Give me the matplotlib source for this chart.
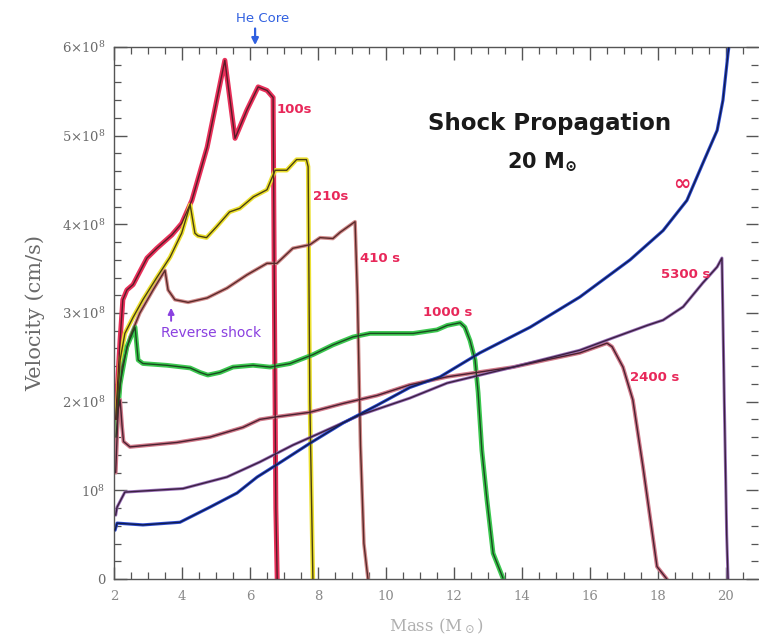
import matplotlib
matplotlib.use("Agg")
import matplotlib.pyplot as plt
from matplotlib.ticker import MultipleLocator, FixedLocator, FixedFormatter

# Velocity profiles (units of 1e8 cm/s) versus enclosed mass (solar masses)
mass_100 = [2.05, 2.12, 2.18, 2.26, 2.38, 2.56, 2.97, 3.26, 3.70, 3.99, 4.29, 4.74, 5.26,
            5.56, 5.91, 6.24, 6.50, 6.68, 6.72, 6.76, 6.80]
vel_100 = [1.80, 2.30, 2.70, 3.15, 3.26, 3.32, 3.62, 3.73, 3.88, 4.01, 4.27, 4.87, 5.85,
           4.97, 5.29, 5.55, 5.51, 5.43, 3.00, 0.80, 0.00]

mass_210 = [2.07, 2.18, 2.32, 2.56, 2.85, 3.26, 3.65, 3.99, 4.24, 4.38, 4.47, 4.72, 5.01,
            5.40, 5.70, 6.10, 6.50, 6.74, 7.08, 7.37, 7.66, 7.71, 7.76, 7.85]
vel_210 = [1.80, 2.47, 2.77, 2.95, 3.15, 3.40, 3.63, 3.90, 4.22, 3.90, 3.87, 3.85, 3.97,
           4.14, 4.18, 4.31, 4.39, 4.61, 4.61, 4.73, 4.73, 4.65, 2.00, 0.00]

mass_410 = [2.08, 2.24, 2.47, 2.76, 3.15, 3.50, 3.59, 3.79, 4.18, 4.74, 5.32, 5.91, 6.50,
            6.79, 7.26, 7.76, 8.06, 8.44, 8.65, 9.09, 9.16, 9.25, 9.35, 9.47]
vel_410 = [1.80, 2.39, 2.73, 3.00, 3.26, 3.48, 3.26, 3.15, 3.12, 3.17, 3.28, 3.43, 3.56,
           3.56, 3.73, 3.77, 3.85, 3.84, 3.91, 4.03, 3.20, 1.50, 0.40, 0.00]

mass_1000 = [2.06, 2.18, 2.38, 2.62, 2.71, 2.85, 3.56, 4.24, 4.53, 4.76, 5.12, 5.50, 6.09,
             6.59, 7.18, 7.85, 8.44, 9.03, 9.53, 10.8, 11.5, 11.8, 12.18, 12.32, 12.47,
             12.62, 12.71, 12.82, 12.97, 13.15, 13.44]
vel_1000 = [1.60, 2.20, 2.62, 2.84, 2.47, 2.43, 2.41, 2.38, 2.33, 2.30, 2.33, 2.39, 2.41,
            2.39, 2.43, 2.53, 2.64, 2.73, 2.77, 2.77, 2.81, 2.86, 2.89, 2.84, 2.69,
            2.47, 2.10, 1.45, 0.89, 0.29, 0.01]

mass_2400 = [2.05, 2.12, 2.18, 2.24, 2.28, 2.47, 3.85, 4.82, 5.79, 6.29, 6.79, 7.76, 8.74,
             9.74, 10.7, 11.8, 13.74, 14.7, 15.7, 16.5, 16.65, 16.97, 17.26, 17.56,
             17.97, 18.26]
vel_2400 = [1.20, 1.90, 2.02, 1.71, 1.55, 1.49, 1.54, 1.60, 1.71, 1.80, 1.83, 1.88, 1.98,
            2.07, 2.19, 2.28, 2.39, 2.47, 2.55, 2.66, 2.62, 2.39, 2.02, 1.26, 0.14, 0.00]

mass_5300 = [2.05, 2.09, 2.32, 4.03, 5.32, 6.29, 7.26, 8.26, 9.24, 10.7, 11.8, 13.74,
             15.7, 16.68, 17.68, 18.15, 18.74, 19.32, 19.74, 19.88, 19.95, 20.02, 20.06]
vel_5300 = [0.72, 0.81, 0.98, 1.02, 1.15, 1.32, 1.51, 1.68, 1.85, 2.04, 2.21, 2.39,
            2.58, 2.72, 2.86, 2.92, 3.07, 3.34, 3.52, 3.62, 2.00, 0.50, 0.00]

mass_inf = [2.03, 2.09, 2.85, 3.94, 4.82, 5.62, 6.21, 6.79, 7.76, 8.74, 9.74, 10.7, 11.59,
            12.76, 14.24, 15.70, 17.18, 18.15, 18.85, 19.32, 19.74, 19.91, 20.06, 20.12]
vel_inf = [0.55, 0.63, 0.61, 0.64, 0.81, 0.97, 1.15, 1.29, 1.53, 1.76, 1.96, 2.16, 2.28,
           2.55, 2.84, 3.18, 3.60, 3.93, 4.27, 4.69, 5.06, 5.40, 5.93, 6.10]

labels = ["100s", "210s", "410 s", "1000 s", "2400 s", "5300 s", "\u221e"]
label_mass = [7.30, 8.38, 9.82, 11.80, 17.90, 18.80, 18.70]
label_vel = [5.29, 4.31, 3.62, 3.00, 2.27, 3.43, 4.46]

curves = [
    (mass_100, vel_100, "#e8305a", "#5a1a28", 3.6),
    (mass_210, vel_210, "#ece030", "#4a4010", 3.2),
    (mass_410, vel_410, "#d08a8a", "#5a2a2a", 2.6),
    (mass_1000, vel_1000, "#3cc850", "#1a4a20", 3.4),
    (mass_2400, vel_2400, "#d07a8a", "#4a2030", 2.8),
    (mass_5300, vel_5300, "#9a70b8", "#3a2040", 2.2),
    (mass_inf, vel_inf, "#2c4ad0", "#101c50", 2.3),
]

yticks = [0, 1, 2, 3, 4, 5, 6]
ytick_labels = ["0", r"$10^8$", r"$2{\times}10^8$", r"$3{\times}10^8$",
                r"$4{\times}10^8$", r"$5{\times}10^8$", r"$6{\times}10^8$"]
xticks = [2, 4, 6, 8, 10, 12, 14, 16, 18, 20]

plt.rcParams["mathtext.fontset"] = "dejavuserif"

fig = plt.figure(figsize=(7.59, 6.35), dpi=100)
ax = fig.add_axes([114 / 759, 56 / 635, (758 - 114) / 759, 532 / 635])

for m, v, col, core, lw in curves:
    ax.plot(m, v, color=col, lw=lw, solid_capstyle="round", solid_joinstyle="round", zorder=2)
    ax.plot(m, v, color=core, lw=1.0, solid_capstyle="round", solid_joinstyle="round", zorder=3)

for txt, xm, yv in zip(labels, label_mass, label_vel):
    fs = 15 if txt == "\u221e" else 9.5
    ax.text(xm, yv, txt, color="#e8285a", fontsize=fs, fontweight="bold",
            ha="center", va="center", family="DejaVu Sans", zorder=4)

ax.text(14.8, 5.14, "Shock Propagation", fontsize=16.5, fontweight="bold",
        color="#1a1a1a", ha="center", va="center", family="DejaVu Sans")
ax.text(14.6, 4.70, r"20 M$_{\mathbf{\odot}}$", fontsize=15, fontweight="bold",
        color="#1a1a1a", ha="center", va="center", family="DejaVu Sans")

# Reverse shock marker
ax.text(4.85, 2.77, "Reverse shock", color="#8a40e0", fontsize=10,
        ha="center", va="center", family="DejaVu Sans")
ax.annotate("", xy=(3.68, 3.09), xytext=(3.68, 2.88),
            arrowprops=dict(arrowstyle="-|>", color="#8a40e0", lw=1.4, mutation_scale=9))

# Helium core boundary
ax.text(6.38, 6.32, "He Core", color="#3060e0", fontsize=9.5, ha="center",
        va="center", family="DejaVu Sans", clip_on=False)
ax.annotate("", xy=(6.15, 5.99), xytext=(6.15, 6.24),
            arrowprops=dict(arrowstyle="-|>", color="#3060e0", lw=1.6, mutation_scale=10),
            annotation_clip=False)

ax.set_xlim(2, 2 + (758 - 114) / 34)
ax.set_ylim(0, 6)

ax.xaxis.set_major_locator(FixedLocator(xticks))
ax.xaxis.set_minor_locator(MultipleLocator(0.5))
ax.yaxis.set_major_locator(FixedLocator(yticks))
ax.yaxis.set_major_formatter(FixedFormatter(ytick_labels))
ax.yaxis.set_minor_locator(MultipleLocator(0.2))

ax.tick_params(which="both", direction="in", top=True, right=True, color="#555555")
ax.tick_params(which="major", length=9, width=1.0)
ax.tick_params(which="minor", length=5, width=0.9)
ax.tick_params(axis="x", which="major", labelsize=9.5, labelcolor="#8a8a8a", pad=8)
ax.tick_params(axis="y", which="major", labelsize=9.5, labelcolor="#6a6a6a", pad=6)
for lab in ax.get_xticklabels() + ax.get_yticklabels():
    lab.set_family("DejaVu Serif")

for side in ["left", "top", "bottom"]:
    ax.spines[side].set_color("#555555")
    ax.spines[side].set_linewidth(1.0)
ax.spines["right"].set_visible(False)

ax.set_xlabel(r"Mass (M$_\odot$)", fontsize=12, color="#b0b0b0", family="DejaVu Serif",
              labelpad=10)
ax.set_ylabel("Velocity (cm/s)", fontsize=15, color="#6a6a6a", family="DejaVu Serif",
              labelpad=12)

fig.savefig("out.png", dpi=100, facecolor="white")
